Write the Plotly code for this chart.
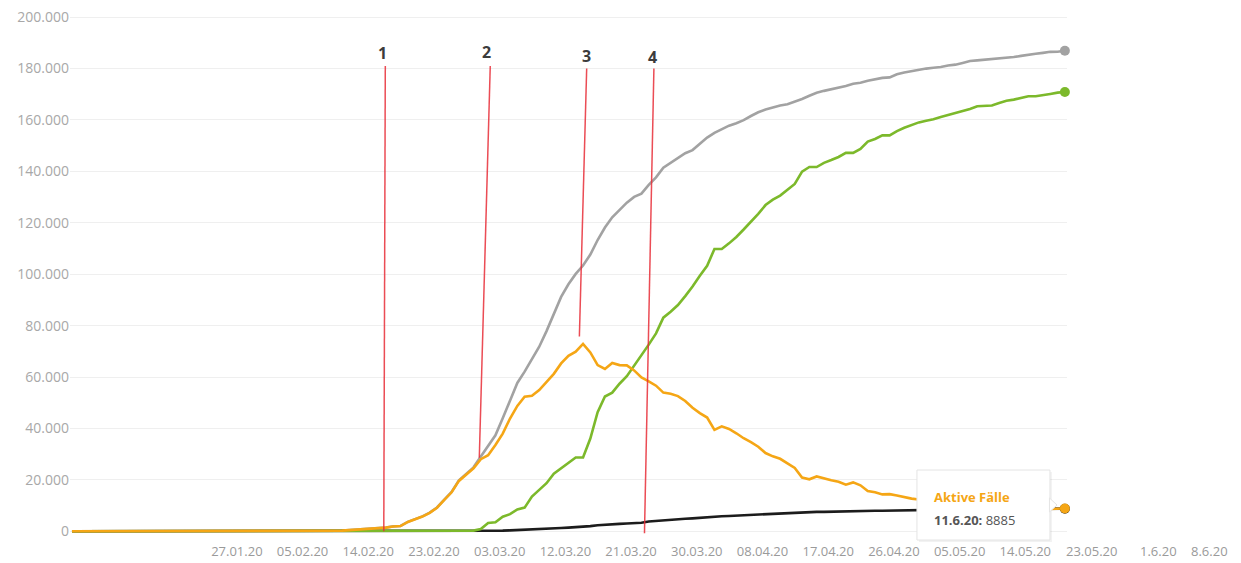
import pandas as pd
import plotly.graph_objects as go

# ---------------- data (daily, 27.01.20 - 11.06.20) ----------------
start_date = "2020-01-27"
n_days = 137

confirmed = [
    1, 4, 4, 4, 5,
    8, 10, 12, 12, 12, 12, 13, 13, 14, 14, 16, 16, 16, 16, 16, 16, 16, 16, 16, 16, 16, 16, 16, 16, 17, 27, 46, 48, 79,
    130, 159, 196, 262, 482, 670, 799, 1040, 1176, 1457, 1908, 2078, 3675, 4585, 5795, 7272, 9257, 12327, 15320, 19848,
    22213, 24873, 29056, 32986, 37323, 43938, 50871, 57695, 62095, 66885, 71808,
    77872, 84794, 91159, 96092, 100123, 103374, 107663, 113296, 118181, 122171, 124908, 127854, 130072, 131359, 134753,
    137698, 141397, 143342, 145184, 147065, 148291, 150648, 153129, 154999, 156513, 157770, 158758, 159912, 161539, 163009,
    164077, 164967, 165664, 166152, 167007, 168162, 169430, 170588, 171324, 171879, 172576, 173171, 174098, 174478, 175233,
    175752, 176369, 176551, 177778, 178473, 179021, 179710, 179986, 180328, 180600, 181200, 181524, 182196, 182922, 183189, 183410,
    183594, 183879, 184121, 184472, 184924, 185450, 185750, 186109, 186506, 186522, 186900,
]

recovered = [
    0, 0, 0, 0, 0,
    0, 0, 0, 0, 0, 0, 0, 0, 0, 0, 0, 1, 1, 1, 1, 1, 1, 12, 12, 12, 12, 12, 12, 12, 12, 14, 15, 16, 16,
    16, 16, 16, 18, 18, 18, 18, 18, 18, 25, 25, 25, 46, 46, 46, 67, 67, 105, 113, 180,
    233, 266, 900, 3243, 3547, 5673, 6658, 8481, 9211, 13500, 16100,
    18700, 22440, 24575, 26400, 28700, 28700, 36081, 46300, 52407, 53913, 57400, 60300, 64300, 68200, 72600,
    77000, 83114, 85400, 88000, 91500, 95200, 99400, 103300, 109800, 109800, 112000, 114500, 117400, 120400, 123500,
    126900, 129000, 130600, 132700, 135100, 139900, 141700, 141700, 143300, 144400, 145600, 147200, 147200, 148700, 151597,
    152600, 154011, 154011, 155681, 156966, 158087, 159064, 159716, 160281, 161199, 161967, 162820, 163360, 164245, 165352, 165632,
    165632, 166609, 167453, 167909, 168480, 169224, 169224, 169556, 170130, 170630, 170900,
]

deaths = [
    0, 0, 0, 0, 0,
    0, 0, 0, 0, 0, 0, 0, 0, 0, 0, 0, 0, 0, 0, 0, 0, 0, 0, 0, 0, 0, 0, 0, 0, 0, 0, 0, 0, 0,
    0, 0, 0, 0, 0, 0, 0, 0, 2, 2, 3, 3, 7, 9, 11, 17, 24, 28, 44, 67,
    84, 94, 123, 157, 206, 267, 342, 433, 533, 645, 775,
    920, 1107, 1275, 1444, 1584, 1810, 2016, 2349, 2607, 2767, 2871, 3022, 3194, 3294, 3804,
    4052, 4352, 4459, 4586, 4862, 5033, 5279, 5575, 5760, 5877, 5976, 6126, 6314, 6467, 6623,
    6736, 6812, 6866, 6993, 7275, 7392, 7510, 7549, 7569, 7661, 7738, 7861, 7884, 7897, 7938,
    7962, 8003, 8081, 8144, 8203, 8228, 8261, 8283, 8309, 8372, 8428, 8470, 8504, 8530, 8540, 8555,
    8563, 8602, 8635, 8658, 8673, 8685, 8692, 8711, 8729, 8755, 8800,
]

active = [
    1, 4, 4, 4, 5,
    8, 10, 12, 12, 12, 12, 13, 13, 14, 14, 16, 15, 15, 15, 15, 15, 15, 4, 4, 4, 4, 4, 4, 4, 5, 13, 31, 32, 63,
    114, 143, 180, 244, 464, 652, 781, 1022, 1156, 1430, 1880, 2050, 3622, 4530, 5738, 7188, 9166, 12194, 15163, 19601,
    21896, 24513, 28033, 29586, 33570, 37998, 43871, 48781, 52351, 52740, 54933,
    58252, 61247, 65309, 68248, 69839, 72864, 69566, 64647, 63167, 65491, 64637, 64532, 62578, 59865, 58349,
    56646, 53931, 53483, 52598, 50703, 48058, 45969, 44254, 39439, 40836, 39794, 38132, 36198, 34672, 32886,
    30441, 29155, 28198, 26459, 24632, 20870, 20220, 21339, 20455, 19818, 19238, 18110, 19014, 17881, 15698,
    15190, 14355, 14459, 13953, 13304, 12706, 12385, 11987, 11738, 11029, 10805, 10234, 10332, 10147, 9297, 9223,
    9399, 8668, 8433, 8405, 8371, 8441, 8534, 8642, 8747, 8837, 8885,
]

# x tick labels (as printed in the chart)
tick_labels = ["27.01.20", "05.02.20", "14.02.20", "23.02.20", "03.03.20", "12.03.20", "21.03.20",
               "30.03.20", "08.04.20", "17.04.20", "26.04.20", "05.05.20", "14.05.20", "23.05.20",
               "1.6.20", "8.6.20"]
y_ticks = [0, 20000, 40000, 60000, 80000, 100000, 120000, 140000, 160000, 180000, 200000]

# event markers 1..4 (hand drawn red lines)
event_labels = ["1", "2", "3", "4"]
event_top_x = ["2020-03-09 22:00", "2020-03-24 07:00", "2020-04-06 12:00", "2020-04-15 17:00"]
event_bottom_x = ["2020-03-09 17:00", "2020-03-22 19:00", "2020-04-05 12:00", "2020-04-14 10:00"]
event_top_y = [181000, 181000, 180000, 180000]
event_bottom_y = [0, 28600, 75800, -800]
event_label_x = ["2020-03-09 14:00", "2020-03-23 19:00", "2020-04-06 12:00", "2020-04-15 11:00"]
event_label_y = [186000, 186500, 185000, 184500]

tooltip_series = "Aktive Fälle"
tooltip_date = "11.6.20"

# ---------------- figure ----------------
dates = pd.date_range(start_date, periods=n_days, freq="D")

GRAY = "#a2a2a2"
GREEN = "#7cb92b"
ORANGE = "#f5a615"
BLACK = "#1c1c1c"
FONT = "Open Sans"
TICK_COL = "#9a9a9a"

fig = go.Figure()
series = [
    ("Bestätigte Fälle", confirmed, GRAY),
    ("Todesfälle", deaths, BLACK),
    ("Genesene", recovered, GREEN),
    ("Aktive Fälle", active, ORANGE),
]
for name, vals, col in series:
    fig.add_trace(go.Scatter(x=dates, y=vals, mode="lines", name=name,
                             line=dict(color=col, width=2.6), hoverinfo="skip"))
for name, vals, col in series:
    fig.add_trace(go.Scatter(x=[dates[-1]], y=[vals[-1]], mode="markers", name=name,
                             marker=dict(color=col, size=10), cliponaxis=False,
                             showlegend=False, hoverinfo="skip"))

# tick positions: 9-day steps as drawn in the picture
tick_start = pd.Timestamp("2020-02-18 14:00")
tick_pos = [tick_start + pd.Timedelta(days=9 * k) for k in range(14)]
tick_pos += [pd.Timestamp("2020-06-23 19:00"), pd.Timestamp("2020-06-30 19:00")]

x_min = pd.Timestamp("2020-01-26 17:30")
x_max = pd.Timestamp("2020-06-11 07:00")

in_vals, in_text = [], []
annotations = []
for pos, lab in zip(tick_pos, tick_labels):
    if pos <= x_max:
        in_vals.append(pos)
        in_text.append(lab)
    else:
        # labels beyond the plotted range: placed with the same date->paper scale
        px = (pos - x_min) / (x_max - x_min)
        annotations.append(dict(x=px, y=0, xref="paper", yref="paper", text=lab, showarrow=False,
                                xanchor="center", yanchor="top", yshift=-1,
                                font=dict(family=FONT, size=13, color=TICK_COL)))

shapes = []
for i in range(len(event_labels)):
    shapes.append(dict(type="line", xref="x", yref="y",
                       x0=event_bottom_x[i], y0=event_bottom_y[i],
                       x1=event_top_x[i], y1=event_top_y[i],
                       line=dict(color="rgba(232,45,55,0.85)", width=1.5), layer="above"))
    annotations.append(dict(x=event_label_x[i], y=event_label_y[i], xref="x", yref="y",
                            text="<b>%s</b>" % event_labels[i], showarrow=False,
                            font=dict(family=FONT, size=16, color="#3c3c3c")))

# tooltip box (static)
shapes.append(dict(type="rect", xref="paper", yref="paper", x0=0.8515, x1=0.9849, y0=-0.0057, y1=0.1271,
                   fillcolor="rgba(0,0,0,0.05)", line=dict(width=0), layer="above"))
shapes.append(dict(type="rect", xref="paper", yref="paper", x0=0.8495, x1=0.9829, y0=-0.0019, y1=0.1309,
                   fillcolor="white", line=dict(color="#e4e4e4", width=1), layer="above"))
shapes.append(dict(type="path", xref="paper", yref="paper",
                   path="M 0.9824 0.0778 L 0.9900 0.0645 L 0.9824 0.0512 Z",
                   fillcolor="white", line=dict(color="#e4e4e4", width=1), layer="above"))
annotations.append(dict(x=0.8646, y=0.0797, xref="paper", yref="paper", xanchor="left", yanchor="middle",
                        text="<b>%s</b>" % tooltip_series, showarrow=False,
                        font=dict(family=FONT, size=13, color=ORANGE)))
annotations.append(dict(x=0.8646, y=0.0361, xref="paper", yref="paper", xanchor="left", yanchor="middle",
                        text="<b>%s:</b> %d" % (tooltip_date, active[-1]), showarrow=False,
                        font=dict(family=FONT, size=13, color="#555555")))

fig.update_layout(
    width=1241, height=563,
    margin=dict(l=62, r=182, t=4, b=32),
    paper_bgcolor="white", plot_bgcolor="white",
    showlegend=False,
    separators=",.",
    font=dict(family=FONT, color=TICK_COL),
    shapes=shapes,
    annotations=annotations,
    xaxis=dict(type="date", range=[x_min, x_max], tickvals=in_vals, ticktext=in_text,
               showgrid=False, zeroline=False, showline=False, ticks="", ticklabelstandoff=3,
               tickfont=dict(family=FONT, size=13, color=TICK_COL), automargin=False),
    yaxis=dict(range=[-3000, 202000], tickvals=y_ticks, tickformat=",d",
               showgrid=True, gridcolor="#efefef", gridwidth=1, zeroline=False, showline=False,
               ticks="", ticklabeloverflow="allow",
               tickfont=dict(family=FONT, size=14, color="#a8a8a8"), automargin=False),
)

fig.write_html("out.html")
